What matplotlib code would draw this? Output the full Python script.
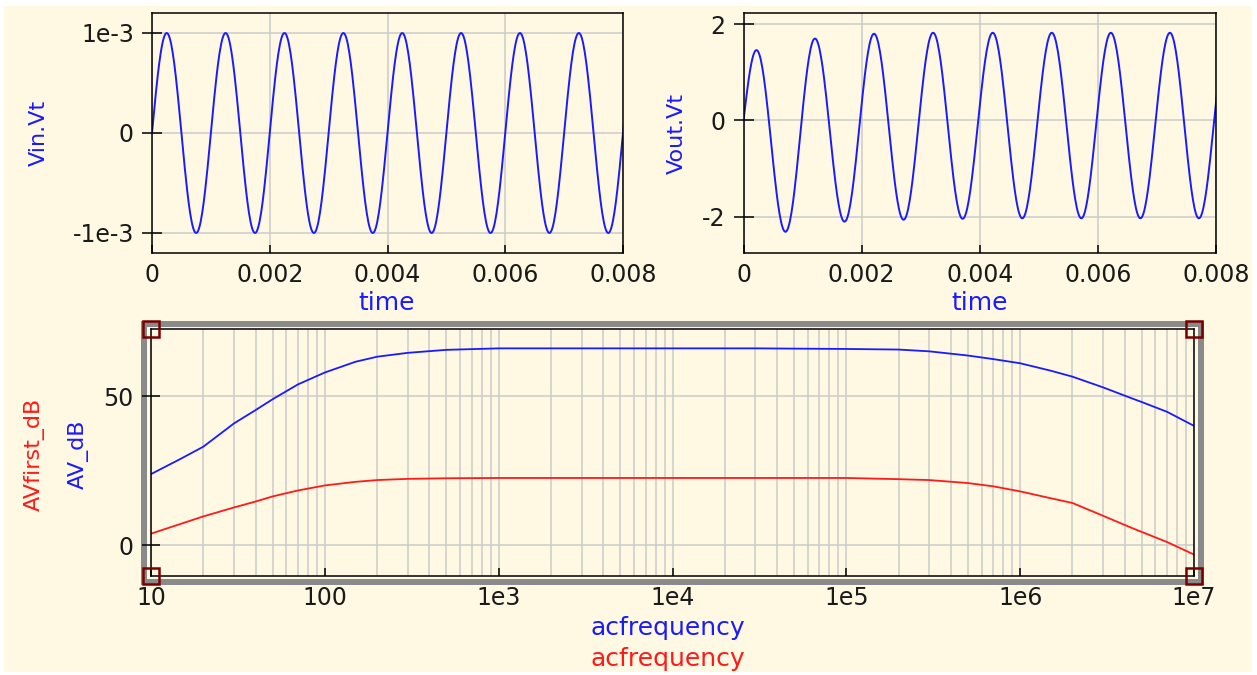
import matplotlib
matplotlib.use('Agg')
import matplotlib.pyplot as plt
from matplotlib.patches import Rectangle
from matplotlib.ticker import FixedLocator, LogLocator, NullFormatter
import numpy as np

W, H = 1257, 675
CREAM = '#FFF8E3'
BLUE = '#1a1aff'
RED = '#ff1a1a'
GRID = '#cbcbcb'
INK = '#1a1a1a'

# transient sim: extrema (time in s, value)
vin_t = [0.0, 0.00025, 0.00075, 0.00125, 0.00175, 0.00225, 0.00275, 0.00325, 0.00375,
         0.00425, 0.00475, 0.00525, 0.00575, 0.00625, 0.00675, 0.00725, 0.00775, 0.00825]
vin_v = [0.0, 1e-3, -1e-3, 1e-3, -1e-3, 1e-3, -1e-3, 1e-3, -1e-3,
         1e-3, -1e-3, 1e-3, -1e-3, 1e-3, -1e-3, 1e-3, -1e-3, 1e-3]

vout_t = [0.0, 0.00022, 0.00071, 0.00121, 0.00171, 0.00221, 0.00271, 0.00321, 0.00371,
          0.00422, 0.00472, 0.00522, 0.00572, 0.00622, 0.00672, 0.00722, 0.00771, 0.00821]
vout_v = [0.0, 1.46, -2.31, 1.70, -2.10, 1.80, -2.06, 1.82, -2.04,
          1.82, -2.03, 1.82, -2.03, 1.82, -2.03, 1.82, -2.03, 1.82]

time_ticks = [0, 0.002, 0.004, 0.006, 0.008]
time_labels = ['0', '0.002', '0.004', '0.006', '0.008']

# ac sweep
acfreq = [10, 15, 20, 30, 40, 50, 70, 100, 150, 200, 300, 500, 1e3, 3e3, 1e4, 3e4, 1e5,
          2e5, 3e5, 5e5, 7e5, 1e6, 1.5e6, 2e6, 3e6, 4.4e6, 5e6, 7e6, 1e7]
av_db = [23.8, 29.1, 33.0, 40.8, 45.3, 48.9, 53.9, 57.9, 61.5, 63.2, 64.5, 65.5, 66.0, 66.0,
         66.0, 66.0, 65.8, 65.6, 65.0, 63.6, 62.4, 61.0, 58.5, 56.5, 52.9, 49.2, 48.0, 44.7, 40.0]
avfirst_db = [3.8, 7.2, 9.6, 12.6, 14.6, 16.3, 18.3, 20.0, 21.2, 21.8, 22.2, 22.4, 22.5, 22.5,
              22.5, 22.5, 22.5, 22.1, 21.8, 20.8, 19.7, 18.0, 15.7, 14.1, 9.8, 5.7, 4.4, 1.0, -3.2]
freq_ticks = [10, 100, 1e3, 1e4, 1e5, 1e6, 1e7]
freq_labels = ['10', '100', '1e3', '1e4', '1e5', '1e6', '1e7']


def smooth(tk, vk, n=40):
    # join the read extrema with sine-shaped segments
    ts, vs = [tk[0]], [vk[0]]
    for i in range(len(tk) - 1):
        s = np.linspace(0, 1, n)[1:]
        if i == 0:
            shape = np.sin(s * np.pi / 2)
        else:
            shape = (1 - np.cos(s * np.pi)) / 2
        ts.extend(tk[i] + s * (tk[i + 1] - tk[i]))
        vs.extend(vk[i] + shape * (vk[i + 1] - vk[i]))
    return np.array(ts), np.array(vs)


def box(l, t, r, b):
    return [l / W, 1 - b / H, (r - l) / W, (b - t) / H]


def fx(x):
    return x / W


def fy(y):
    return 1 - y / H


plt.rcParams['font.family'] = ['DejaVu Sans']
fig = plt.figure(figsize=(W / 100, H / 100), dpi=100, facecolor='white')
fig.patches.append(Rectangle((fx(4), fy(672)), fx(1252) - fx(4), fy(6) - fy(672),
                             transform=fig.transFigure, facecolor=CREAM, edgecolor='none', zorder=-10))


def style(ax, ylen):
    ax.set_facecolor(CREAM)
    for sp in ax.spines.values():
        sp.set_color('black')
        sp.set_linewidth(1.1)
    ax.tick_params(axis='y', direction='inout', length=ylen, width=1.1, pad=6,
                   labelsize=17, colors='black', labelcolor=INK)
    ax.tick_params(axis='x', direction='in', length=6, width=1.1, pad=7,
                   labelsize=17, colors='black', labelcolor=INK)


# Vin
ax1 = fig.add_axes(box(152, 13, 623, 253))
style(ax1, 14)
t, v = smooth(vin_t, vin_v)
ax1.plot(t, v, color=BLUE, lw=1.4)
ax1.set_xlim(0, 0.008)
ax1.set_ylim(-1.2e-3, 1.2e-3)
ax1.set_xticks(time_ticks)
ax1.set_xticklabels(time_labels)
ax1.set_yticks([-1e-3, 0, 1e-3])
ax1.set_yticklabels(['-1e-3', '0', '1e-3'])
ax1.grid(True, color=GRID, lw=1.1)
ax1.set_axisbelow(True)

# Vout
ax2 = fig.add_axes(box(743.5, 13, 1216, 253))
style(ax2, 14)
t, v = smooth(vout_t, vout_v)
ax2.plot(t, v, color=BLUE, lw=1.4)
ax2.set_xlim(0, 0.008)
ax2.set_ylim(-2.75, 2.23)
ax2.set_xticks(time_ticks)
ax2.set_xticklabels(time_labels)
ax2.set_yticks([-2, 0, 2])
ax2.set_yticklabels(['-2', '0', '2'])
ax2.grid(True, color=GRID, lw=1.1)
ax2.set_axisbelow(True)

fig.text(fx(39), fy(133), 'Vin.Vt', color=BLUE, fontsize=16, rotation=90, ha='center', va='center')
fig.text(fx(677), fy(134), 'Vout.Vt', color=BLUE, fontsize=16, rotation=90, ha='center', va='center')
fig.text(fx(387), fy(303), 'time', color=BLUE, fontsize=18, ha='center', va='center')
fig.text(fx(980), fy(303), 'time', color=BLUE, fontsize=18, ha='center', va='center')

# AC gain
ax3 = fig.add_axes(box(151, 329, 1194, 576))
style(ax3, 13)
ax3.plot(acfreq, av_db, color=BLUE, lw=1.3)
ax3.plot(acfreq, avfirst_db, color=RED, lw=1.3)
ax3.set_xscale('log')
ax3.set_xlim(10, 1e7)
ax3.set_ylim(-10.4, 72.5)
ax3.xaxis.set_major_locator(FixedLocator(freq_ticks))
ax3.set_xticklabels(freq_labels)
ax3.xaxis.set_minor_locator(LogLocator(base=10, subs=range(2, 10)))
ax3.xaxis.set_minor_formatter(NullFormatter())
ax3.tick_params(axis='x', which='minor', length=0)
ax3.tick_params(axis='x', pad=7)
ax3.set_yticks([0, 50])
ax3.set_yticklabels(['0', '50'])
ax3.grid(True, which='both', axis='x', color=GRID, lw=1.1)
ax3.grid(True, axis='y', color=GRID, lw=1.1)
ax3.set_axisbelow(True)
ax3.plot([0, 0, 1, 1], [1, 0, 1, 0], ls='none', marker='s', ms=11, mfc='none',
         mec='#7a0000', mew=1.8, transform=ax3.transAxes, clip_on=False, zorder=5)

fig.patches.append(Rectangle((fx(143.5), fy(581.5)), fx(1200.5) - fx(143.5), fy(323.5) - fy(581.5),
                             transform=fig.transFigure, facecolor='none', edgecolor='#8a8a8a',
                             lw=4.3, zorder=-5))

fig.text(fx(34), fy(454), 'AVfirst_dB', color=RED, fontsize=16, rotation=90, ha='center', va='center')
fig.text(fx(78), fy(454), 'AV_dB', color=BLUE, fontsize=16, rotation=90, ha='center', va='center')
fig.text(fx(668), fy(628), 'acfrequency', color=BLUE, fontsize=18, ha='center', va='center')
fig.text(fx(668), fy(659), 'acfrequency', color=RED, fontsize=18, ha='center', va='center')

fig.savefig('out.png', dpi=100, facecolor='white')
